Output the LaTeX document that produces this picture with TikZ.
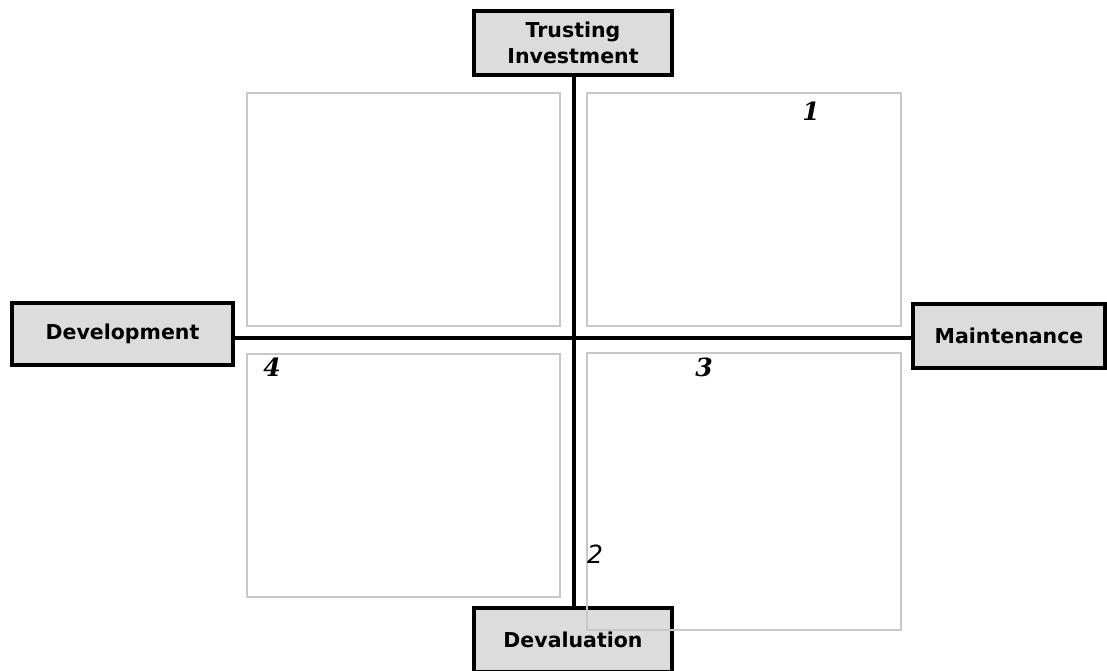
\documentclass[tikz,border=0pt]{standalone}
\usepackage{fontspec}
\setsansfont{DejaVu Sans}
\newfontfamily\numfont{DejaVu Serif}
\begin{document}
\begin{tikzpicture}[x=1pt,y=-1pt,
  axisbox/.style={draw=black,line width=3.5pt,fill=boxgray,inner sep=0pt,
    font=\sffamily\bfseries\fontsize{20.5}{26}\selectfont,align=center},
  axisline/.style={draw=black,line width=3.5pt},
  quad/.style={draw=quadgray,line width=1.5pt,inner sep=0pt},
  num/.style={font=\numfont\fontsize{25}{25}\selectfont\bfseries\itshape},
  numlight/.style={font=\sffamily\fontsize{25}{25}\selectfont\itshape}]
\definecolor{boxgray}{HTML}{DCDCDC}
\definecolor{quadgray}{HTML}{C8C8C8}
\useasboundingbox (0,0) rectangle (1107,670);
\coordinate (c) at (574,338);
\node[axisbox,minimum width=198pt,minimum height=64pt] (T) at (573,43) {Trusting\\Investment};
\node[axisbox,minimum width=221pt,minimum height=62pt] (L) at (122.5,334) {Development};
\node[axisbox,minimum width=192pt,minimum height=64pt] (R) at (1009,336) {Maintenance};
\node[axisbox,minimum width=198pt,minimum height=64pt] (B) at (573,640) {Devaluation};
\draw[axisline] (T.south -| c) -- (B.north -| c);
\draw[axisline] (L.east |- c) -- (R.west |- c);
\node[quad,minimum width=313pt,minimum height=233pt] (q2) at (403.5,209.5) {};
\node[quad,minimum width=314pt,minimum height=233pt] (q1) at (744,209.5) {};
\node[quad,minimum width=313pt,minimum height=243pt] (q4) at (403.5,475.5) {};
\node[quad,minimum width=314pt,minimum height=277pt] (q3) at (744,491.5) {};
\node[num] (n1) at (811,111) {1};
\node[numlight] (n2) at (595,554) {2};
\node[num] (n3) at (704,367) {3};
\node[num] (n4) at (272,367) {4};
\end{tikzpicture}
\end{document}
